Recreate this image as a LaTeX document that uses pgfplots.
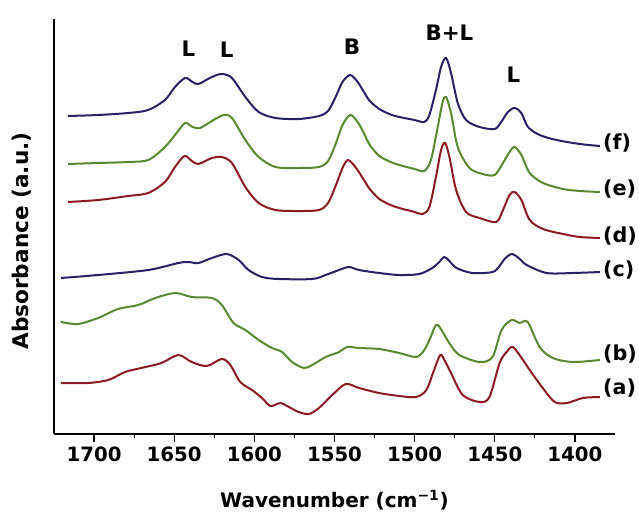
\documentclass[border=0pt]{standalone}
\usepackage{fontspec}
\setmainfont{DejaVu Sans}
\usepackage{pgfplots}
\pgfplotsset{compat=1.18}

\definecolor{spblue}{RGB}{38,34,100}
\definecolor{spgreen}{RGB}{90,136,48}
\definecolor{spred}{RGB}{140,26,34}

\begin{document}
\begin{tikzpicture}
% page frame: 639 x 515 px at 0.75 pt per px, axis box corner at (54 px, 81 px)
\useasboundingbox (-40.5pt,-60.75pt) rectangle ++(479.25pt,386.25pt);
\begin{axis}[
  at={(0,0)}, anchor=south west,
  scale only axis,
  width=420.75pt, height=311.25pt,
  x dir=reverse,
  xmin=1375, xmax=1725,
  ymin=0, ymax=415,
  axis x line*=bottom,
  axis y line*=left,
  axis line style={line width=1.1pt, black},
  ytick=\empty,
  xtick={1400,1450,...,1700},
  minor x tick num=1,
  tick align=outside,
  major tick length=6pt,
  minor tick length=3pt,
  tick style={line width=0.9pt, black},
  /pgf/number format/assume math mode=true,
  /pgf/number format/1000 sep={},
  xticklabel style={font=\bfseries\fontsize{14.8}{14.8}\selectfont},
  every axis x label/.style={at={(axis description cs:0.5,0)}, anchor=center, yshift=-49.5pt},
  every axis y label/.style={at={(axis description cs:-0.057,0.465)}, anchor=center, rotate=90},
  xlabel={\bfseries\fontsize{15}{15}\selectfont Wavenumber (cm\textsuperscript{−1})},
  ylabel={\bfseries\fontsize{16.2}{16.2}\selectfont Absorbance (a.u.)},
  every axis plot/.append style={line width=1.5pt, smooth, tension=0.5},
  clip=false,
]
% (f)
\addplot[spblue] coordinates {
(1716.3,318) (1697.5,319) (1678.7,321) (1666.2,324) (1655.8,334) (1649.5,347)
(1643.2,356) (1638.5,352) (1634.9,350) (1626.5,357) (1620.3,360) (1614.0,356)
(1605.6,337) (1597.3,322) (1586.8,316) (1572.3,315) (1559.7,318) (1554.0,323)
(1549.3,337) (1545.0,352) (1540.3,359) (1536.0,353) (1532.0,343) (1528.0,333)
(1522.0,325) (1515.0,319.5) (1509.6,317) (1500.0,314) (1494.0,312) (1490.8,319)
(1486.7,344) (1483.5,367) (1480.4,376) (1477.3,361) (1473.1,331) (1467.9,314)
(1459.5,307) (1450.1,305) (1446.0,312) (1441.8,322) (1437.6,326) (1433.4,321)
(1429.3,307) (1422.0,299) (1411.5,294) (1396.9,290) (1384.4,288)
};
% (e)
\addplot[spgreen] coordinates {
(1716.3,270) (1697.5,271) (1678.7,272) (1666.2,274) (1655.8,287) (1648.5,301)
(1643.2,311) (1638.5,307) (1633.8,306) (1626.5,313) (1619.2,319) (1614.0,316)
(1605.6,294) (1597.3,277) (1586.8,267) (1572.3,266) (1559.7,267) (1554.0,273)
(1549.3,290) (1545.0,309) (1540.3,319) (1536.0,313) (1532.0,302) (1528.0,289)
(1522.0,278) (1515.0,272) (1509.6,269) (1500.0,265) (1494.0,263) (1489.8,274)
(1485.6,307) (1482.5,332) (1480.4,337) (1477.3,321) (1473.1,287) (1465.8,266)
(1457.5,260) (1450.1,259) (1444.9,271) (1440.8,282) (1437.6,287) (1433.4,279)
(1428.2,261) (1419.9,251) (1407.4,245) (1396.9,243) (1384.4,242)
};
% (d)
\addplot[spred] coordinates {
(1716.3,232) (1697.5,234) (1678.7,238) (1666.2,241) (1655.8,252) (1649.5,267)
(1643.6,278) (1639.0,273) (1634.9,270) (1626.5,276) (1620.3,277) (1614.0,271)
(1605.6,247) (1597.3,231) (1586.8,224) (1572.3,223) (1559.7,224) (1554.0,231)
(1549.3,248) (1545.0,266) (1541.6,274) (1537.0,267) (1532.0,255) (1528.0,245)
(1522.0,235) (1515.0,229) (1509.6,226) (1500.0,222) (1495.0,220) (1490.8,227)
(1486.7,257) (1483.5,284) (1481.0,291) (1478.3,277) (1474.1,244) (1467.9,222)
(1459.5,216) (1449.1,212) (1444.9,224) (1440.8,239) (1437.6,242) (1433.4,234)
(1428.2,214) (1419.9,205) (1407.4,200) (1396.9,197) (1384.4,196)
};
% (c)
\addplot[spblue] coordinates {
(1720.7,156) (1697.5,159) (1666.2,164) (1647.4,171) (1641.1,172) (1634.9,171)
(1626.5,176) (1617.2,180) (1609.8,174) (1603.6,164) (1595.2,157) (1584.8,155)
(1563.9,155) (1555.5,159) (1547.2,164) (1540.9,167) (1534.7,164) (1522.2,161)
(1509.6,159) (1497.1,160) (1489.0,166) (1484.6,172) (1481.5,177) (1478.3,173)
(1473.9,166) (1464.0,161) (1451.4,162) (1447.0,168) (1443.9,175) (1439.5,180)
(1435.1,176) (1430.1,169) (1417.6,161) (1401.3,161) (1384.4,162)
};
% (b)
\addplot[spgreen] coordinates {
(1720.7,112) (1710.0,110) (1697.5,116) (1685.0,125) (1672.4,129) (1661.8,136)
(1649.3,141) (1639.1,137) (1626.5,136) (1620.3,129) (1613.0,111) (1605.6,104)
(1597.3,94) (1589.0,86) (1582.7,82) (1576.5,72) (1569.1,66) (1563.9,69)
(1555.5,77) (1547.2,82) (1542.0,87) (1534.7,86) (1522.2,85) (1509.6,81)
(1499.0,77) (1494.0,84) (1490.2,96) (1487.5,107) (1485.5,109) (1482.5,102)
(1478.0,90) (1472.1,79) (1459.5,72) (1451.4,77) (1445.8,104) (1439.5,114)
(1434.5,111) (1429.5,112) (1422.0,87) (1413.8,76) (1401.3,72) (1384.4,74)
};
% (a)
\addplot[spred] coordinates {
(1720.7,51) (1703.8,51) (1691.2,54) (1680.6,62) (1670.6,66) (1658.0,71)
(1647.4,79) (1639.1,72) (1629.7,68) (1620.3,75) (1615.0,69) (1608.8,52)
(1601.5,44) (1595.2,36) (1590.0,28) (1583.7,31) (1578.5,27) (1572.3,22)
(1566.0,20) (1559.7,26) (1551.4,39) (1543.0,50) (1534.7,46) (1522.2,41)
(1509.6,38) (1499.0,37) (1492.7,44) (1488.3,62) (1484.0,79) (1480.8,72)
(1477.3,61) (1470.0,39) (1459.5,32) (1453.3,37) (1447.0,71) (1442.6,82)
(1438.7,87) (1432.4,74) (1428.2,64) (1420.1,46) (1412.6,32) (1405.0,31)
(1395.0,36) (1384.4,37)
};
% band assignments
\begin{scope}[every node/.style={font=\bfseries\fontsize{16}{16}\selectfont, anchor=center}]
\node at (axis cs:1641.1,385) {L};
\node at (axis cs:1617.3,384) {L};
\node at (axis cs:1539.0,387) {B};
\node at (axis cs:1478.3,401) {B+L};
\node at (axis cs:1438.3,359) {L};
\end{scope}
% sample labels
\begin{scope}[every node/.style={font=\bfseries\fontsize{15.5}{15.5}\selectfont, anchor=west, inner sep=0pt}]
\node at (axis cs:1382.5,291) {(f)};
\node at (axis cs:1382.5,245) {(e)};
\node at (axis cs:1382.5,198) {(d)};
\node at (axis cs:1382.5,164) {(c)};
\node at (axis cs:1382.5,80) {(b)};
\node at (axis cs:1382.5,46) {(a)};
\end{scope}
\end{axis}
\end{tikzpicture}
\end{document}
